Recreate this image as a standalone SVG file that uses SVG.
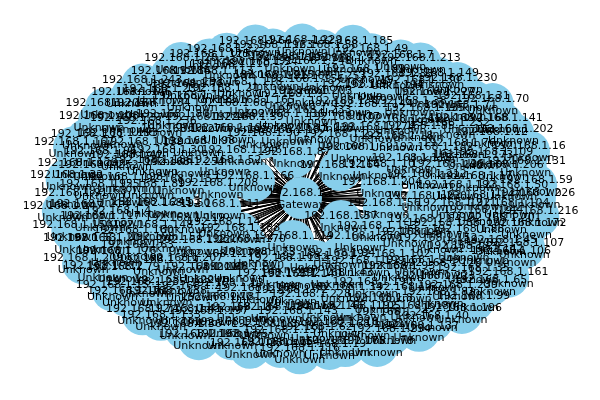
<svg xmlns="http://www.w3.org/2000/svg" width="600" height="400" viewBox="0 0 600 400">
<style>
#edges line{stroke:#000;stroke-width:1;vector-effect:non-scaling-stroke}
#nodes{isolation:isolate}
#nodes circle{fill:#87ceeb;mix-blend-mode:darken}
text{font-family:"DejaVu Sans","Liberation Sans",sans-serif;font-size:11px;text-anchor:middle;fill:#000}
</style>
<rect width="600" height="400" fill="#fff"/>
<g id="edges">
<g transform="translate(301,198)">
<line x2="-7" y2="-41"/><line x2="39" y2="-28"/><line x2="40" y2="23"/><line x2="-8" y2="43"/><line x2="-61" y2="35"/><line x2="-47" y2="-17"/>
</g>
<g transform="translate(301,198) scale(1,.65)">
<line x2="234"/><line x2="239" transform="rotate(6.8)"/><line x2="230" transform="rotate(11.5)"/><line x2="236" transform="rotate(19)"/><line x2="228" transform="rotate(23)"/><line x2="240" transform="rotate(30.3)"/><line x2="232" transform="rotate(35.2)"/><line x2="234" transform="rotate(42.5)"/><line x2="239" transform="rotate(47.7)"/><line x2="230" transform="rotate(55.2)"/><line x2="236" transform="rotate(60)"/><line x2="228" transform="rotate(66.8)"/><line x2="240" transform="rotate(71.5)"/><line x2="232" transform="rotate(79)"/><line x2="234" transform="rotate(83)"/><line x2="239" transform="rotate(90.3)"/><line x2="230" transform="rotate(95.2)"/><line x2="236" transform="rotate(102.5)"/><line x2="228" transform="rotate(107.7)"/><line x2="240" transform="rotate(115.2)"/><line x2="232" transform="rotate(120)"/><line x2="234" transform="rotate(126.8)"/><line x2="239" transform="rotate(131.5)"/><line x2="230" transform="rotate(139)"/><line x2="236" transform="rotate(143)"/><line x2="228" transform="rotate(150.3)"/><line x2="240" transform="rotate(155.2)"/><line x2="232" transform="rotate(162.5)"/><line x2="234" transform="rotate(167.7)"/><line x2="239" transform="rotate(175.2)"/><line x2="230" transform="rotate(180)"/><line x2="236" transform="rotate(186.8)"/><line x2="228" transform="rotate(191.5)"/><line x2="240" transform="rotate(199)"/><line x2="232" transform="rotate(203)"/><line x2="234" transform="rotate(210.3)"/><line x2="239" transform="rotate(215.2)"/><line x2="230" transform="rotate(222.5)"/><line x2="236" transform="rotate(227.7)"/><line x2="228" transform="rotate(235.2)"/><line x2="240" transform="rotate(240)"/><line x2="232" transform="rotate(246.8)"/><line x2="234" transform="rotate(251.5)"/><line x2="239" transform="rotate(259)"/><line x2="230" transform="rotate(263)"/><line x2="236" transform="rotate(270.3)"/><line x2="228" transform="rotate(275.2)"/><line x2="240" transform="rotate(282.5)"/><line x2="232" transform="rotate(287.7)"/><line x2="234" transform="rotate(295.2)"/><line x2="239" transform="rotate(300)"/><line x2="230" transform="rotate(306.8)"/><line x2="236" transform="rotate(311.5)"/><line x2="228" transform="rotate(319)"/><line x2="240" transform="rotate(323)"/><line x2="232" transform="rotate(330.3)"/><line x2="234" transform="rotate(335.2)"/><line x2="239" transform="rotate(342.5)"/><line x2="230" transform="rotate(347.7)"/><line x2="236" transform="rotate(355.2)"/>
<line x2="209" transform="rotate(4.3)"/><line x2="204" transform="rotate(10.8)"/><line x2="212" transform="rotate(19.8)"/><line x2="202" transform="rotate(25.3)"/><line x2="207" transform="rotate(33.8)"/><line x2="211" transform="rotate(42)"/><line x2="205" transform="rotate(48)"/><line x2="209" transform="rotate(56.6)"/><line x2="204" transform="rotate(63.5)"/><line x2="212" transform="rotate(72.5)"/><line x2="202" transform="rotate(79.3)"/><line x2="207" transform="rotate(85.8)"/><line x2="211" transform="rotate(94.8)"/><line x2="205" transform="rotate(100.3)"/><line x2="209" transform="rotate(108.8)"/><line x2="204" transform="rotate(117)"/><line x2="212" transform="rotate(123)"/><line x2="202" transform="rotate(131.6)"/><line x2="207" transform="rotate(138.5)"/><line x2="211" transform="rotate(147.5)"/><line x2="205" transform="rotate(154.3)"/><line x2="209" transform="rotate(160.8)"/><line x2="204" transform="rotate(169.8)"/><line x2="212" transform="rotate(175.3)"/><line x2="202" transform="rotate(183.8)"/><line x2="207" transform="rotate(192)"/><line x2="211" transform="rotate(198)"/><line x2="205" transform="rotate(206.6)"/><line x2="209" transform="rotate(213.5)"/><line x2="204" transform="rotate(222.5)"/><line x2="212" transform="rotate(229.3)"/><line x2="202" transform="rotate(235.8)"/><line x2="207" transform="rotate(244.8)"/><line x2="211" transform="rotate(250.3)"/><line x2="205" transform="rotate(258.8)"/><line x2="209" transform="rotate(267)"/><line x2="204" transform="rotate(273)"/><line x2="212" transform="rotate(281.6)"/><line x2="202" transform="rotate(288.5)"/><line x2="207" transform="rotate(297.5)"/><line x2="211" transform="rotate(304.3)"/><line x2="205" transform="rotate(310.8)"/><line x2="209" transform="rotate(319.8)"/><line x2="204" transform="rotate(325.3)"/><line x2="212" transform="rotate(333.8)"/><line x2="202" transform="rotate(342)"/><line x2="207" transform="rotate(348)"/><line x2="211" transform="rotate(356.6)"/>
<line x2="180" transform="rotate(1)"/><line x2="184" transform="rotate(8)"/><line x2="176" transform="rotate(18.5)"/><line x2="182" transform="rotate(26.5)"/><line x2="177" transform="rotate(37.5)"/><line x2="185" transform="rotate(43.5)"/><line x2="179" transform="rotate(54)"/><line x2="180" transform="rotate(64)"/><line x2="184" transform="rotate(71)"/><line x2="176" transform="rotate(81.5)"/><line x2="182" transform="rotate(91)"/><line x2="177" transform="rotate(98)"/><line x2="185" transform="rotate(108.5)"/><line x2="179" transform="rotate(116.5)"/><line x2="180" transform="rotate(127.5)"/><line x2="184" transform="rotate(133.5)"/><line x2="176" transform="rotate(144)"/><line x2="182" transform="rotate(154)"/><line x2="177" transform="rotate(161)"/><line x2="185" transform="rotate(171.5)"/><line x2="179" transform="rotate(181)"/><line x2="180" transform="rotate(188)"/><line x2="184" transform="rotate(198.5)"/><line x2="176" transform="rotate(206.5)"/><line x2="182" transform="rotate(217.5)"/><line x2="177" transform="rotate(223.5)"/><line x2="185" transform="rotate(234)"/><line x2="179" transform="rotate(244)"/><line x2="180" transform="rotate(251)"/><line x2="184" transform="rotate(261.5)"/><line x2="176" transform="rotate(271)"/><line x2="182" transform="rotate(278)"/><line x2="177" transform="rotate(288.5)"/><line x2="185" transform="rotate(296.5)"/><line x2="179" transform="rotate(307.5)"/><line x2="180" transform="rotate(313.5)"/><line x2="184" transform="rotate(324)"/><line x2="176" transform="rotate(334)"/><line x2="182" transform="rotate(341)"/><line x2="177" transform="rotate(351.5)"/>
<line x2="156" transform="rotate(5.6)"/><line x2="150" transform="rotate(17.9)"/><line x2="153" transform="rotate(27.1)"/><line x2="157" transform="rotate(40.9)"/><line x2="149" transform="rotate(49.1)"/><line x2="155" transform="rotate(62.4)"/><line x2="151" transform="rotate(72.6)"/><line x2="156" transform="rotate(86.4)"/><line x2="150" transform="rotate(93.6)"/><line x2="153" transform="rotate(106.9)"/><line x2="157" transform="rotate(118.1)"/><line x2="149" transform="rotate(130.4)"/><line x2="155" transform="rotate(139.6)"/><line x2="151" transform="rotate(153.4)"/><line x2="156" transform="rotate(161.6)"/><line x2="150" transform="rotate(174.9)"/><line x2="153" transform="rotate(185.1)"/><line x2="157" transform="rotate(198.9)"/><line x2="149" transform="rotate(206.1)"/><line x2="155" transform="rotate(219.4)"/><line x2="151" transform="rotate(230.6)"/><line x2="156" transform="rotate(242.9)"/><line x2="150" transform="rotate(252.1)"/><line x2="153" transform="rotate(265.9)"/><line x2="157" transform="rotate(274.1)"/><line x2="149" transform="rotate(287.4)"/><line x2="155" transform="rotate(297.6)"/><line x2="151" transform="rotate(311.4)"/><line x2="156" transform="rotate(318.6)"/><line x2="150" transform="rotate(331.9)"/><line x2="153" transform="rotate(343.1)"/><line x2="157" transform="rotate(355.4)"/>
<line x2="126" transform="rotate(2)"/><line x2="130" transform="rotate(17.9)"/><line x2="123" transform="rotate(29.3)"/><line x2="129" transform="rotate(46.2)"/><line x2="122" transform="rotate(58.6)"/><line x2="128" transform="rotate(74)"/><line x2="124" transform="rotate(89.9)"/><line x2="126" transform="rotate(101.3)"/><line x2="130" transform="rotate(118.2)"/><line x2="123" transform="rotate(130.6)"/><line x2="129" transform="rotate(146)"/><line x2="122" transform="rotate(161.9)"/><line x2="128" transform="rotate(173.3)"/><line x2="124" transform="rotate(190.2)"/><line x2="126" transform="rotate(202.6)"/><line x2="130" transform="rotate(218)"/><line x2="123" transform="rotate(233.9)"/><line x2="129" transform="rotate(245.3)"/><line x2="122" transform="rotate(262.2)"/><line x2="128" transform="rotate(274.6)"/><line x2="124" transform="rotate(290)"/><line x2="126" transform="rotate(305.9)"/><line x2="130" transform="rotate(317.3)"/><line x2="123" transform="rotate(334.2)"/><line x2="129" transform="rotate(346.6)"/>
</g>
<g transform="translate(301,198) scale(1,.78)">
<line x2="84" transform="rotate(9)"/><line x2="87" transform="rotate(29)"/><line x2="81" transform="rotate(43)"/><line x2="86" transform="rotate(64)"/><line x2="82" transform="rotate(80)"/><line x2="84" transform="rotate(99)"/><line x2="87" transform="rotate(119)"/><line x2="81" transform="rotate(133)"/><line x2="86" transform="rotate(154)"/><line x2="82" transform="rotate(170)"/><line x2="84" transform="rotate(189)"/><line x2="87" transform="rotate(209)"/><line x2="81" transform="rotate(223)"/><line x2="86" transform="rotate(244)"/><line x2="82" transform="rotate(260)"/><line x2="84" transform="rotate(279)"/><line x2="87" transform="rotate(299)"/><line x2="81" transform="rotate(313)"/><line x2="86" transform="rotate(334)"/><line x2="82" transform="rotate(350)"/>
</g>
</g>
<g id="nodes">
<g id="gateway" transform="translate(301,198)"><circle r="21"/><text y="-2">192.168.1.1</text><text y="10">Gateway</text></g>
<g transform="translate(301,198) scale(1,.65)">
<g id="ip226" transform="translate(234)scale(1,1.538)"><circle r="21"/><text y="-2">192.168.1.226</text><text y="10">Unknown</text></g>
<g id="ip216" transform="rotate(6.8)translate(239)rotate(-6.8)scale(1,1.538)"><circle r="21"/><text y="-2">192.168.1.216</text><text y="10">Unknown</text></g>
<g id="ip172" transform="rotate(11.5)translate(230)rotate(-11.5)scale(1,1.538)"><circle r="21"/><text y="-2">192.168.1.172</text><text y="10">Unknown</text></g>
<g id="ip107" transform="rotate(19)translate(236)rotate(-19)scale(1,1.538)"><circle r="21"/><text y="-2">192.168.1.107</text><text y="10">Unknown</text></g>
<g id="ip106" transform="rotate(23)translate(228)rotate(-23)scale(1,1.538)"><circle r="21"/><text y="-2">192.168.1.106</text><text y="10">Unknown</text></g>
<g id="ip161" transform="rotate(30.3)translate(240)rotate(-30.3)scale(1,1.538)"><circle r="21"/><text y="-2">192.168.1.161</text><text y="10">Unknown</text></g>
<g id="ip65" transform="rotate(35.2)translate(232)rotate(-35.2)scale(1,1.538)"><circle r="21"/><text y="-2">192.168.1.65</text><text y="10">Unknown</text></g>
<g id="ip99" transform="rotate(42.5)translate(234)rotate(-42.5)scale(1,1.538)"><circle r="21"/><text y="-2">192.168.1.99</text><text y="10">Unknown</text></g>
<g id="ip196" transform="rotate(47.7)translate(239)rotate(-47.7)scale(1,1.538)"><circle r="21"/><text y="-2">192.168.1.196</text><text y="10">Unknown</text></g>
<g id="ip40" transform="rotate(55.2)translate(230)rotate(-55.2)scale(1,1.538)"><circle r="21"/><text y="-2">192.168.1.40</text><text y="10">Unknown</text></g>
<g id="ip137" transform="rotate(60)translate(236)rotate(-60)scale(1,1.538)"><circle r="21"/><text y="-2">192.168.1.137</text><text y="10">Unknown</text></g>
<g id="ip234" transform="rotate(66.8)translate(228)rotate(-66.8)scale(1,1.538)"><circle r="21"/><text y="-2">192.168.1.234</text><text y="10">Unknown</text></g>
<g id="ip78" transform="rotate(71.5)translate(240)rotate(-71.5)scale(1,1.538)"><circle r="21"/><text y="-2">192.168.1.78</text><text y="10">Unknown</text></g>
<g id="ip175" transform="rotate(79)translate(232)rotate(-79)scale(1,1.538)"><circle r="21"/><text y="-2">192.168.1.175</text><text y="10">Unknown</text></g>
<g id="ip19" transform="rotate(83)translate(234)rotate(-83)scale(1,1.538)"><circle r="21"/><text y="-2">192.168.1.19</text><text y="10">Unknown</text></g>
<g id="ip116" transform="rotate(90.3)translate(239)rotate(-90.3)scale(1,1.538)"><circle r="21"/><text y="-2">192.168.1.116</text><text y="10">Unknown</text></g>
<g id="ip154" transform="rotate(95.2)translate(230)rotate(-95.2)scale(1,1.538)"><circle r="21"/><text y="-2">192.168.1.154</text><text y="10">Unknown</text></g>
<g id="ip251" transform="rotate(102.5)translate(236)rotate(-102.5)scale(1,1.538)"><circle r="21"/><text y="-2">192.168.1.251</text><text y="10">Unknown</text></g>
<g id="ip95" transform="rotate(107.7)translate(228)rotate(-107.7)scale(1,1.538)"><circle r="21"/><text y="-2">192.168.1.95</text><text y="10">Unknown</text></g>
<g id="ip192" transform="rotate(115.2)translate(240)rotate(-115.2)scale(1,1.538)"><circle r="21"/><text y="-2">192.168.1.192</text><text y="10">Unknown</text></g>
<g id="ip36" transform="rotate(120)translate(232)rotate(-120)scale(1,1.538)"><circle r="21"/><text y="-2">192.168.1.36</text><text y="10">Unknown</text></g>
<g id="ip133" transform="rotate(126.8)translate(234)rotate(-126.8)scale(1,1.538)"><circle r="21"/><text y="-2">192.168.1.133</text><text y="10">Unknown</text></g>
<g id="ip74" transform="rotate(131.5)translate(239)rotate(-131.5)scale(1,1.538)"><circle r="21"/><text y="-2">192.168.1.74</text><text y="10">Unknown</text></g>
<g id="ip171" transform="rotate(139)translate(230)rotate(-139)scale(1,1.538)"><circle r="21"/><text y="-2">192.168.1.171</text><text y="10">Unknown</text></g>
<g id="ip15" transform="rotate(143)translate(236)rotate(-143)scale(1,1.538)"><circle r="21"/><text y="-2">192.168.1.15</text><text y="10">Unknown</text></g>
<g id="ip112" transform="rotate(150.3)translate(228)rotate(-150.3)scale(1,1.538)"><circle r="21"/><text y="-2">192.168.1.112</text><text y="10">Unknown</text></g>
<g id="ip209" transform="rotate(155.2)translate(240)rotate(-155.2)scale(1,1.538)"><circle r="21"/><text y="-2">192.168.1.209</text><text y="10">Unknown</text></g>
<g id="ip53" transform="rotate(162.5)translate(232)rotate(-162.5)scale(1,1.538)"><circle r="21"/><text y="-2">192.168.1.53</text><text y="10">Unknown</text></g>
<g id="ip150" transform="rotate(167.7)translate(234)rotate(-167.7)scale(1,1.538)"><circle r="21"/><text y="-2">192.168.1.150</text><text y="10">Unknown</text></g>
<g id="ip247" transform="rotate(175.2)translate(239)rotate(-175.2)scale(1,1.538)"><circle r="21"/><text y="-2">192.168.1.247</text><text y="10">Unknown</text></g>
<g id="ip91" transform="rotate(180)translate(230)rotate(-180)scale(1,1.538)"><circle r="21"/><text y="-2">192.168.1.91</text><text y="10">Unknown</text></g>
<g id="ip32" transform="rotate(186.8)translate(236)rotate(-186.8)scale(1,1.538)"><circle r="21"/><text y="-2">192.168.1.32</text><text y="10">Unknown</text></g>
<g id="ip129" transform="rotate(191.5)translate(228)rotate(-191.5)scale(1,1.538)"><circle r="21"/><text y="-2">192.168.1.129</text><text y="10">Unknown</text></g>
<g id="ip167" transform="rotate(199)translate(240)rotate(-199)scale(1,1.538)"><circle r="21"/><text y="-2">192.168.1.167</text><text y="10">Unknown</text></g>
<g id="ip11" transform="rotate(203)translate(232)rotate(-203)scale(1,1.538)"><circle r="21"/><text y="-2">192.168.1.11</text><text y="10">Unknown</text></g>
<g id="ip108" transform="rotate(210.3)translate(234)rotate(-210.3)scale(1,1.538)"><circle r="21"/><text y="-2">192.168.1.108</text><text y="10">Unknown</text></g>
<g id="ip205" transform="rotate(215.2)translate(239)rotate(-215.2)scale(1,1.538)"><circle r="21"/><text y="-2">192.168.1.205</text><text y="10">Unknown</text></g>
<g id="ip146" transform="rotate(222.5)translate(230)rotate(-222.5)scale(1,1.538)"><circle r="21"/><text y="-2">192.168.1.146</text><text y="10">Unknown</text></g>
<g id="ip243" transform="rotate(227.7)translate(236)rotate(-227.7)scale(1,1.538)"><circle r="21"/><text y="-2">192.168.1.243</text><text y="10">Unknown</text></g>
<g id="ip184" transform="rotate(235.2)translate(228)rotate(-235.2)scale(1,1.538)"><circle r="21"/><text y="-2">192.168.1.184</text><text y="10">Unknown</text></g>
<g id="ip28" transform="rotate(240)translate(240)rotate(-240)scale(1,1.538)"><circle r="21"/><text y="-2">192.168.1.28</text><text y="10">Unknown</text></g>
<g id="ip125" transform="rotate(246.8)translate(232)rotate(-246.8)scale(1,1.538)"><circle r="21"/><text y="-2">192.168.1.125</text><text y="10">Unknown</text></g>
<g id="ip222" transform="rotate(251.5)translate(234)rotate(-251.5)scale(1,1.538)"><circle r="21"/><text y="-2">192.168.1.222</text><text y="10">Unknown</text></g>
<g id="ip66" transform="rotate(259)translate(239)rotate(-259)scale(1,1.538)"><circle r="21"/><text y="-2">192.168.1.66</text><text y="10">Unknown</text></g>
<g id="ip163" transform="rotate(263)translate(230)rotate(-263)scale(1,1.538)"><circle r="21"/><text y="-2">192.168.1.163</text><text y="10">Unknown</text></g>
<g id="ip229" transform="rotate(270.3)translate(236)rotate(-270.3)scale(1,1.538)"><circle r="21"/><text y="-2">192.168.1.229</text><text y="10">Unknown</text></g>
<g id="ip58" transform="rotate(275.2)translate(228)rotate(-275.2)scale(1,1.538)"><circle r="21"/><text y="-2">192.168.1.58</text><text y="10">Unknown</text></g>
<g id="ip185" transform="rotate(282.5)translate(240)rotate(-282.5)scale(1,1.538)"><circle r="21"/><text y="-2">192.168.1.185</text><text y="10">Unknown</text></g>
<g id="ip49" transform="rotate(287.7)translate(232)rotate(-287.7)scale(1,1.538)"><circle r="21"/><text y="-2">192.168.1.49</text><text y="10">Unknown</text></g>
<g id="ip7" transform="rotate(295.2)translate(234)rotate(-295.2)scale(1,1.538)"><circle r="21"/><text y="-2">192.168.1.7</text><text y="10">Unknown</text></g>
<g id="ip213" transform="rotate(300)translate(239)rotate(-300)scale(1,1.538)"><circle r="21"/><text y="-2">192.168.1.213</text><text y="10">Unknown</text></g>
<g id="ip149" transform="rotate(306.8)translate(230)rotate(-306.8)scale(1,1.538)"><circle r="21"/><text y="-2">192.168.1.149</text><text y="10">Unknown</text></g>
<g id="ip230" transform="rotate(311.5)translate(236)rotate(-311.5)scale(1,1.538)"><circle r="21"/><text y="-2">192.168.1.230</text><text y="10">Unknown</text></g>
<g id="ip31" transform="rotate(319)translate(228)rotate(-319)scale(1,1.538)"><circle r="21"/><text y="-2">192.168.1.31</text><text y="10">Unknown</text></g>
<g id="ip70" transform="rotate(323)translate(240)rotate(-323)scale(1,1.538)"><circle r="21"/><text y="-2">192.168.1.70</text><text y="10">Unknown</text></g>
<g id="ip141" transform="rotate(330.3)translate(232)rotate(-330.3)scale(1,1.538)"><circle r="21"/><text y="-2">192.168.1.141</text><text y="10">Unknown</text></g>
<g id="ip202" transform="rotate(335.2)translate(234)rotate(-335.2)scale(1,1.538)"><circle r="21"/><text y="-2">192.168.1.202</text><text y="10">Unknown</text></g>
<g id="ip16" transform="rotate(342.5)translate(239)rotate(-342.5)scale(1,1.538)"><circle r="21"/><text y="-2">192.168.1.16</text><text y="10">Unknown</text></g>
<g id="ip131" transform="rotate(347.7)translate(230)rotate(-347.7)scale(1,1.538)"><circle r="21"/><text y="-2">192.168.1.131</text><text y="10">Unknown</text></g>
<g id="ip59" transform="rotate(355.2)translate(236)rotate(-355.2)scale(1,1.538)"><circle r="21"/><text y="-2">192.168.1.59</text><text y="10">Unknown</text></g>
<g id="ip104" transform="rotate(4.3)translate(209)rotate(-4.3)scale(1,1.538)"><circle r="21"/><text y="-2">192.168.1.104</text><text y="10">Unknown</text></g>
<g id="ip201" transform="rotate(10.8)translate(204)rotate(-10.8)scale(1,1.538)"><circle r="21"/><text y="-2">192.168.1.201</text><text y="10">Unknown</text></g>
<g id="ip45" transform="rotate(19.8)translate(212)rotate(-19.8)scale(1,1.538)"><circle r="21"/><text y="-2">192.168.1.45</text><text y="10">Unknown</text></g>
<g id="ip142" transform="rotate(25.3)translate(202)rotate(-25.3)scale(1,1.538)"><circle r="21"/><text y="-2">192.168.1.142</text><text y="10">Unknown</text></g>
<g id="ip35" transform="rotate(33.8)translate(207)rotate(-33.8)scale(1,1.538)"><circle r="21"/><text y="-2">192.168.1.35</text><text y="10">Unknown</text></g>
<g id="ip239" transform="rotate(42)translate(211)rotate(-42)scale(1,1.538)"><circle r="21"/><text y="-2">192.168.1.239</text><text y="10">Unknown</text></g>
<g id="ip83" transform="rotate(48)translate(205)rotate(-48)scale(1,1.538)"><circle r="21"/><text y="-2">192.168.1.83</text><text y="10">Unknown</text></g>
<g id="ip180" transform="rotate(56.6)translate(209)rotate(-56.6)scale(1,1.538)"><circle r="21"/><text y="-2">192.168.1.180</text><text y="10">Unknown</text></g>
<g id="ip24" transform="rotate(63.5)translate(204)rotate(-63.5)scale(1,1.538)"><circle r="21"/><text y="-2">192.168.1.24</text><text y="10">Unknown</text></g>
<g id="ip121" transform="rotate(72.5)translate(212)rotate(-72.5)scale(1,1.538)"><circle r="21"/><text y="-2">192.168.1.121</text><text y="10">Unknown</text></g>
<g id="ip218" transform="rotate(79.3)translate(202)rotate(-79.3)scale(1,1.538)"><circle r="21"/><text y="-2">192.168.1.218</text><text y="10">Unknown</text></g>
<g id="ip62" transform="rotate(85.8)translate(207)rotate(-85.8)scale(1,1.538)"><circle r="21"/><text y="-2">192.168.1.62</text><text y="10">Unknown</text></g>
<g id="ip159" transform="rotate(94.8)translate(211)rotate(-94.8)scale(1,1.538)"><circle r="21"/><text y="-2">192.168.1.159</text><text y="10">Unknown</text></g>
<g id="ip3" transform="rotate(100.3)translate(205)rotate(-100.3)scale(1,1.538)"><circle r="21"/><text y="-2">192.168.1.3</text><text y="10">Unknown</text></g>
<g id="ip100" transform="rotate(108.8)translate(209)rotate(-108.8)scale(1,1.538)"><circle r="21"/><text y="-2">192.168.1.100</text><text y="10">Unknown</text></g>
<g id="ip197" transform="rotate(117)translate(204)rotate(-117)scale(1,1.538)"><circle r="21"/><text y="-2">192.168.1.197</text><text y="10">Unknown</text></g>
<g id="ip41" transform="rotate(123)translate(212)rotate(-123)scale(1,1.538)"><circle r="21"/><text y="-2">192.168.1.41</text><text y="10">Unknown</text></g>
<g id="ip138" transform="rotate(131.6)translate(202)rotate(-131.6)scale(1,1.538)"><circle r="21"/><text y="-2">192.168.1.138</text><text y="10">Unknown</text></g>
<g id="ip235" transform="rotate(138.5)translate(207)rotate(-138.5)scale(1,1.538)"><circle r="21"/><text y="-2">192.168.1.235</text><text y="10">Unknown</text></g>
<g id="ip79" transform="rotate(147.5)translate(211)rotate(-147.5)scale(1,1.538)"><circle r="21"/><text y="-2">192.168.1.79</text><text y="10">Unknown</text></g>
<g id="ip176" transform="rotate(154.3)translate(205)rotate(-154.3)scale(1,1.538)"><circle r="21"/><text y="-2">192.168.1.176</text><text y="10">Unknown</text></g>
<g id="ip20" transform="rotate(160.8)translate(209)rotate(-160.8)scale(1,1.538)"><circle r="21"/><text y="-2">192.168.1.20</text><text y="10">Unknown</text></g>
<g id="ip117" transform="rotate(169.8)translate(204)rotate(-169.8)scale(1,1.538)"><circle r="21"/><text y="-2">192.168.1.117</text><text y="10">Unknown</text></g>
<g id="ip214" transform="rotate(175.3)translate(212)rotate(-175.3)scale(1,1.538)"><circle r="21"/><text y="-2">192.168.1.214</text><text y="10">Unknown</text></g>
<g id="ip155" transform="rotate(183.8)translate(202)rotate(-183.8)scale(1,1.538)"><circle r="21"/><text y="-2">192.168.1.155</text><text y="10">Unknown</text></g>
<g id="ip252" transform="rotate(192)translate(207)rotate(-192)scale(1,1.538)"><circle r="21"/><text y="-2">192.168.1.252</text><text y="10">Unknown</text></g>
<g id="ip96" transform="rotate(198)translate(211)rotate(-198)scale(1,1.538)"><circle r="21"/><text y="-2">192.168.1.96</text><text y="10">Unknown</text></g>
<g id="ip193" transform="rotate(206.6)translate(205)rotate(-206.6)scale(1,1.538)"><circle r="21"/><text y="-2">192.168.1.193</text><text y="10">Unknown</text></g>
<g id="ip37" transform="rotate(213.5)translate(209)rotate(-213.5)scale(1,1.538)"><circle r="21"/><text y="-2">192.168.1.37</text><text y="10">Unknown</text></g>
<g id="ip134" transform="rotate(222.5)translate(204)rotate(-222.5)scale(1,1.538)"><circle r="21"/><text y="-2">192.168.1.134</text><text y="10">Unknown</text></g>
<g id="ip231" transform="rotate(229.3)translate(212)rotate(-229.3)scale(1,1.538)"><circle r="21"/><text y="-2">192.168.1.231</text><text y="10">Unknown</text></g>
<g id="ip75" transform="rotate(235.8)translate(202)rotate(-235.8)scale(1,1.538)"><circle r="21"/><text y="-2">192.168.1.75</text><text y="10">Unknown</text></g>
<g id="ip113" transform="rotate(244.8)translate(207)rotate(-244.8)scale(1,1.538)"><circle r="21"/><text y="-2">192.168.1.113</text><text y="10">Unknown</text></g>
<g id="ip210" transform="rotate(250.3)translate(211)rotate(-250.3)scale(1,1.538)"><circle r="21"/><text y="-2">192.168.1.210</text><text y="10">Unknown</text></g>
<g id="ip54" transform="rotate(258.8)translate(205)rotate(-258.8)scale(1,1.538)"><circle r="21"/><text y="-2">192.168.1.54</text><text y="10">Unknown</text></g>
<g id="ip151" transform="rotate(267)translate(209)rotate(-267)scale(1,1.538)"><circle r="21"/><text y="-2">192.168.1.151</text><text y="10">Unknown</text></g>
<g id="ip248" transform="rotate(273)translate(204)rotate(-273)scale(1,1.538)"><circle r="21"/><text y="-2">192.168.1.248</text><text y="10">Unknown</text></g>
<g id="ip92" transform="rotate(281.6)translate(212)rotate(-281.6)scale(1,1.538)"><circle r="21"/><text y="-2">192.168.1.92</text><text y="10">Unknown</text></g>
<g id="ip189" transform="rotate(288.5)translate(202)rotate(-288.5)scale(1,1.538)"><circle r="21"/><text y="-2">192.168.1.189</text><text y="10">Unknown</text></g>
<g id="ip33" transform="rotate(297.5)translate(207)rotate(-297.5)scale(1,1.538)"><circle r="21"/><text y="-2">192.168.1.33</text><text y="10">Unknown</text></g>
<g id="ip130" transform="rotate(304.3)translate(211)rotate(-304.3)scale(1,1.538)"><circle r="21"/><text y="-2">192.168.1.130</text><text y="10">Unknown</text></g>
<g id="ip227" transform="rotate(310.8)translate(205)rotate(-310.8)scale(1,1.538)"><circle r="21"/><text y="-2">192.168.1.227</text><text y="10">Unknown</text></g>
<g id="ip71" transform="rotate(319.8)translate(209)rotate(-319.8)scale(1,1.538)"><circle r="21"/><text y="-2">192.168.1.71</text><text y="10">Unknown</text></g>
<g id="ip168" transform="rotate(325.3)translate(204)rotate(-325.3)scale(1,1.538)"><circle r="21"/><text y="-2">192.168.1.168</text><text y="10">Unknown</text></g>
<g id="ip12" transform="rotate(333.8)translate(212)rotate(-333.8)scale(1,1.538)"><circle r="21"/><text y="-2">192.168.1.12</text><text y="10">Unknown</text></g>
<g id="ip109" transform="rotate(342)translate(202)rotate(-342)scale(1,1.538)"><circle r="21"/><text y="-2">192.168.1.109</text><text y="10">Unknown</text></g>
<g id="ip206" transform="rotate(348)translate(207)rotate(-348)scale(1,1.538)"><circle r="21"/><text y="-2">192.168.1.206</text><text y="10">Unknown</text></g>
<g id="ip50" transform="rotate(356.6)translate(211)rotate(-356.6)scale(1,1.538)"><circle r="21"/><text y="-2">192.168.1.50</text><text y="10">Unknown</text></g>
<g id="ip147" transform="rotate(1)translate(180)rotate(-1)scale(1,1.538)"><circle r="21"/><text y="-2">192.168.1.147</text><text y="10">Unknown</text></g>
<g id="ip244" transform="rotate(8)translate(184)rotate(-8)scale(1,1.538)"><circle r="21"/><text y="-2">192.168.1.244</text><text y="10">Unknown</text></g>
<g id="ip88" transform="rotate(18.5)translate(176)rotate(-18.5)scale(1,1.538)"><circle r="21"/><text y="-2">192.168.1.88</text><text y="10">Unknown</text></g>
<g id="ip29" transform="rotate(26.5)translate(182)rotate(-26.5)scale(1,1.538)"><circle r="21"/><text y="-2">192.168.1.29</text><text y="10">Unknown</text></g>
<g id="ip126" transform="rotate(37.5)translate(177)rotate(-37.5)scale(1,1.538)"><circle r="21"/><text y="-2">192.168.1.126</text><text y="10">Unknown</text></g>
<g id="ip223" transform="rotate(43.5)translate(185)rotate(-43.5)scale(1,1.538)"><circle r="21"/><text y="-2">192.168.1.223</text><text y="10">Unknown</text></g>
<g id="ip67" transform="rotate(54)translate(179)rotate(-54)scale(1,1.538)"><circle r="21"/><text y="-2">192.168.1.67</text><text y="10">Unknown</text></g>
<g id="ip8" transform="rotate(64)translate(180)rotate(-64)scale(1,1.538)"><circle r="21"/><text y="-2">192.168.1.8</text><text y="10">Unknown</text></g>
<g id="ip105" transform="rotate(71)translate(184)rotate(-71)scale(1,1.538)"><circle r="21"/><text y="-2">192.168.1.105</text><text y="10">Unknown</text></g>
<g id="ip46" transform="rotate(81.5)translate(176)rotate(-81.5)scale(1,1.538)"><circle r="21"/><text y="-2">192.168.1.46</text><text y="10">Unknown</text></g>
<g id="ip143" transform="rotate(91)translate(182)rotate(-91)scale(1,1.538)"><circle r="21"/><text y="-2">192.168.1.143</text><text y="10">Unknown</text></g>
<g id="ip240" transform="rotate(98)translate(177)rotate(-98)scale(1,1.538)"><circle r="21"/><text y="-2">192.168.1.240</text><text y="10">Unknown</text></g>
<g id="ip84" transform="rotate(108.5)translate(185)rotate(-108.5)scale(1,1.538)"><circle r="21"/><text y="-2">192.168.1.84</text><text y="10">Unknown</text></g>
<g id="ip181" transform="rotate(116.5)translate(179)rotate(-116.5)scale(1,1.538)"><circle r="21"/><text y="-2">192.168.1.181</text><text y="10">Unknown</text></g>
<g id="ip25" transform="rotate(127.5)translate(180)rotate(-127.5)scale(1,1.538)"><circle r="21"/><text y="-2">192.168.1.25</text><text y="10">Unknown</text></g>
<g id="ip122" transform="rotate(133.5)translate(184)rotate(-133.5)scale(1,1.538)"><circle r="21"/><text y="-2">192.168.1.122</text><text y="10">Unknown</text></g>
<g id="ip219" transform="rotate(144)translate(176)rotate(-144)scale(1,1.538)"><circle r="21"/><text y="-2">192.168.1.219</text><text y="10">Unknown</text></g>
<g id="ip63" transform="rotate(154)translate(182)rotate(-154)scale(1,1.538)"><circle r="21"/><text y="-2">192.168.1.63</text><text y="10">Unknown</text></g>
<g id="ip160" transform="rotate(161)translate(177)rotate(-161)scale(1,1.538)"><circle r="21"/><text y="-2">192.168.1.160</text><text y="10">Unknown</text></g>
<g id="ip4" transform="rotate(171.5)translate(185)rotate(-171.5)scale(1,1.538)"><circle r="21"/><text y="-2">192.168.1.4</text><text y="10">Unknown</text></g>
<g id="ip101" transform="rotate(181)translate(179)rotate(-181)scale(1,1.538)"><circle r="21"/><text y="-2">192.168.1.101</text><text y="10">Unknown</text></g>
<g id="ip198" transform="rotate(188)translate(180)rotate(-188)scale(1,1.538)"><circle r="21"/><text y="-2">192.168.1.198</text><text y="10">Unknown</text></g>
<g id="ip42" transform="rotate(198.5)translate(184)rotate(-198.5)scale(1,1.538)"><circle r="21"/><text y="-2">192.168.1.42</text><text y="10">Unknown</text></g>
<g id="ip139" transform="rotate(206.5)translate(176)rotate(-206.5)scale(1,1.538)"><circle r="21"/><text y="-2">192.168.1.139</text><text y="10">Unknown</text></g>
<g id="ip236" transform="rotate(217.5)translate(182)rotate(-217.5)scale(1,1.538)"><circle r="21"/><text y="-2">192.168.1.236</text><text y="10">Unknown</text></g>
<g id="ip80" transform="rotate(223.5)translate(177)rotate(-223.5)scale(1,1.538)"><circle r="21"/><text y="-2">192.168.1.80</text><text y="10">Unknown</text></g>
<g id="ip177" transform="rotate(234)translate(185)rotate(-234)scale(1,1.538)"><circle r="21"/><text y="-2">192.168.1.177</text><text y="10">Unknown</text></g>
<g id="ip21" transform="rotate(244)translate(179)rotate(-244)scale(1,1.538)"><circle r="21"/><text y="-2">192.168.1.21</text><text y="10">Unknown</text></g>
<g id="ip118" transform="rotate(251)translate(180)rotate(-251)scale(1,1.538)"><circle r="21"/><text y="-2">192.168.1.118</text><text y="10">Unknown</text></g>
<g id="ip215" transform="rotate(261.5)translate(184)rotate(-261.5)scale(1,1.538)"><circle r="21"/><text y="-2">192.168.1.215</text><text y="10">Unknown</text></g>
<g id="ip156" transform="rotate(271)translate(176)rotate(-271)scale(1,1.538)"><circle r="21"/><text y="-2">192.168.1.156</text><text y="10">Unknown</text></g>
<g id="ip253" transform="rotate(278)translate(182)rotate(-278)scale(1,1.538)"><circle r="21"/><text y="-2">192.168.1.253</text><text y="10">Unknown</text></g>
<g id="ip97" transform="rotate(288.5)translate(177)rotate(-288.5)scale(1,1.538)"><circle r="21"/><text y="-2">192.168.1.97</text><text y="10">Unknown</text></g>
<g id="ip194" transform="rotate(296.5)translate(185)rotate(-296.5)scale(1,1.538)"><circle r="21"/><text y="-2">192.168.1.194</text><text y="10">Unknown</text></g>
<g id="ip38" transform="rotate(307.5)translate(179)rotate(-307.5)scale(1,1.538)"><circle r="21"/><text y="-2">192.168.1.38</text><text y="10">Unknown</text></g>
<g id="ip135" transform="rotate(313.5)translate(180)rotate(-313.5)scale(1,1.538)"><circle r="21"/><text y="-2">192.168.1.135</text><text y="10">Unknown</text></g>
<g id="ip232" transform="rotate(324)translate(184)rotate(-324)scale(1,1.538)"><circle r="21"/><text y="-2">192.168.1.232</text><text y="10">Unknown</text></g>
<g id="ip76" transform="rotate(334)translate(176)rotate(-334)scale(1,1.538)"><circle r="21"/><text y="-2">192.168.1.76</text><text y="10">Unknown</text></g>
<g id="ip173" transform="rotate(341)translate(182)rotate(-341)scale(1,1.538)"><circle r="21"/><text y="-2">192.168.1.173</text><text y="10">Unknown</text></g>
<g id="ip17" transform="rotate(351.5)translate(177)rotate(-351.5)scale(1,1.538)"><circle r="21"/><text y="-2">192.168.1.17</text><text y="10">Unknown</text></g>
<g id="ip211" transform="rotate(5.6)translate(156)rotate(-5.6)scale(1,1.538)"><circle r="21"/><text y="-2">192.168.1.211</text><text y="10">Unknown</text></g>
<g id="ip55" transform="rotate(17.9)translate(150)rotate(-17.9)scale(1,1.538)"><circle r="21"/><text y="-2">192.168.1.55</text><text y="10">Unknown</text></g>
<g id="ip152" transform="rotate(27.1)translate(153)rotate(-27.1)scale(1,1.538)"><circle r="21"/><text y="-2">192.168.1.152</text><text y="10">Unknown</text></g>
<g id="ip249" transform="rotate(40.9)translate(157)rotate(-40.9)scale(1,1.538)"><circle r="21"/><text y="-2">192.168.1.249</text><text y="10">Unknown</text></g>
<g id="ip93" transform="rotate(49.1)translate(149)rotate(-49.1)scale(1,1.538)"><circle r="21"/><text y="-2">192.168.1.93</text><text y="10">Unknown</text></g>
<g id="ip190" transform="rotate(62.4)translate(155)rotate(-62.4)scale(1,1.538)"><circle r="21"/><text y="-2">192.168.1.190</text><text y="10">Unknown</text></g>
<g id="ip34" transform="rotate(72.6)translate(151)rotate(-72.6)scale(1,1.538)"><circle r="21"/><text y="-2">192.168.1.34</text><text y="10">Unknown</text></g>
<g id="ip228" transform="rotate(86.4)translate(156)rotate(-86.4)scale(1,1.538)"><circle r="21"/><text y="-2">192.168.1.228</text><text y="10">Unknown</text></g>
<g id="ip72" transform="rotate(93.6)translate(150)rotate(-93.6)scale(1,1.538)"><circle r="21"/><text y="-2">192.168.1.72</text><text y="10">Unknown</text></g>
<g id="ip169" transform="rotate(106.9)translate(153)rotate(-106.9)scale(1,1.538)"><circle r="21"/><text y="-2">192.168.1.169</text><text y="10">Unknown</text></g>
<g id="ip13" transform="rotate(118.1)translate(157)rotate(-118.1)scale(1,1.538)"><circle r="21"/><text y="-2">192.168.1.13</text><text y="10">Unknown</text></g>
<g id="ip110" transform="rotate(130.4)translate(149)rotate(-130.4)scale(1,1.538)"><circle r="21"/><text y="-2">192.168.1.110</text><text y="10">Unknown</text></g>
<g id="ip207" transform="rotate(139.6)translate(155)rotate(-139.6)scale(1,1.538)"><circle r="21"/><text y="-2">192.168.1.207</text><text y="10">Unknown</text></g>
<g id="ip51" transform="rotate(153.4)translate(151)rotate(-153.4)scale(1,1.538)"><circle r="21"/><text y="-2">192.168.1.51</text><text y="10">Unknown</text></g>
<g id="ip148" transform="rotate(161.6)translate(156)rotate(-161.6)scale(1,1.538)"><circle r="21"/><text y="-2">192.168.1.148</text><text y="10">Unknown</text></g>
<g id="ip245" transform="rotate(174.9)translate(150)rotate(-174.9)scale(1,1.538)"><circle r="21"/><text y="-2">192.168.1.245</text><text y="10">Unknown</text></g>
<g id="ip89" transform="rotate(185.1)translate(153)rotate(-185.1)scale(1,1.538)"><circle r="21"/><text y="-2">192.168.1.89</text><text y="10">Unknown</text></g>
<g id="ip186" transform="rotate(198.9)translate(157)rotate(-198.9)scale(1,1.538)"><circle r="21"/><text y="-2">192.168.1.186</text><text y="10">Unknown</text></g>
<g id="ip30" transform="rotate(206.1)translate(149)rotate(-206.1)scale(1,1.538)"><circle r="21"/><text y="-2">192.168.1.30</text><text y="10">Unknown</text></g>
<g id="ip127" transform="rotate(219.4)translate(155)rotate(-219.4)scale(1,1.538)"><circle r="21"/><text y="-2">192.168.1.127</text><text y="10">Unknown</text></g>
<g id="ip224" transform="rotate(230.6)translate(151)rotate(-230.6)scale(1,1.538)"><circle r="21"/><text y="-2">192.168.1.224</text><text y="10">Unknown</text></g>
<g id="ip68" transform="rotate(242.9)translate(156)rotate(-242.9)scale(1,1.538)"><circle r="21"/><text y="-2">192.168.1.68</text><text y="10">Unknown</text></g>
<g id="ip165" transform="rotate(252.1)translate(150)rotate(-252.1)scale(1,1.538)"><circle r="21"/><text y="-2">192.168.1.165</text><text y="10">Unknown</text></g>
<g id="ip9" transform="rotate(265.9)translate(153)rotate(-265.9)scale(1,1.538)"><circle r="21"/><text y="-2">192.168.1.9</text><text y="10">Unknown</text></g>
<g id="ip203" transform="rotate(274.1)translate(157)rotate(-274.1)scale(1,1.538)"><circle r="21"/><text y="-2">192.168.1.203</text><text y="10">Unknown</text></g>
<g id="ip47" transform="rotate(287.4)translate(149)rotate(-287.4)scale(1,1.538)"><circle r="21"/><text y="-2">192.168.1.47</text><text y="10">Unknown</text></g>
<g id="ip144" transform="rotate(297.6)translate(155)rotate(-297.6)scale(1,1.538)"><circle r="21"/><text y="-2">192.168.1.144</text><text y="10">Unknown</text></g>
<g id="ip241" transform="rotate(311.4)translate(151)rotate(-311.4)scale(1,1.538)"><circle r="21"/><text y="-2">192.168.1.241</text><text y="10">Unknown</text></g>
<g id="ip85" transform="rotate(318.6)translate(156)rotate(-318.6)scale(1,1.538)"><circle r="21"/><text y="-2">192.168.1.85</text><text y="10">Unknown</text></g>
<g id="ip182" transform="rotate(331.9)translate(150)rotate(-331.9)scale(1,1.538)"><circle r="21"/><text y="-2">192.168.1.182</text><text y="10">Unknown</text></g>
<g id="ip26" transform="rotate(343.1)translate(153)rotate(-343.1)scale(1,1.538)"><circle r="21"/><text y="-2">192.168.1.26</text><text y="10">Unknown</text></g>
<g id="ip123" transform="rotate(355.4)translate(157)rotate(-355.4)scale(1,1.538)"><circle r="21"/><text y="-2">192.168.1.123</text><text y="10">Unknown</text></g>
<g id="ip220" transform="rotate(2)translate(126)rotate(-2)scale(1,1.538)"><circle r="21"/><text y="-2">192.168.1.220</text><text y="10">Unknown</text></g>
<g id="ip64" transform="rotate(17.9)translate(130)rotate(-17.9)scale(1,1.538)"><circle r="21"/><text y="-2">192.168.1.64</text><text y="10">Unknown</text></g>
<g id="ip5" transform="rotate(29.3)translate(123)rotate(-29.3)scale(1,1.538)"><circle r="21"/><text y="-2">192.168.1.5</text><text y="10">Unknown</text></g>
<g id="ip102" transform="rotate(46.2)translate(129)rotate(-46.2)scale(1,1.538)"><circle r="21"/><text y="-2">192.168.1.102</text><text y="10">Unknown</text></g>
<g id="ip199" transform="rotate(58.6)translate(122)rotate(-58.6)scale(1,1.538)"><circle r="21"/><text y="-2">192.168.1.199</text><text y="10">Unknown</text></g>
<g id="ip43" transform="rotate(74)translate(128)rotate(-74)scale(1,1.538)"><circle r="21"/><text y="-2">192.168.1.43</text><text y="10">Unknown</text></g>
<g id="ip140" transform="rotate(89.9)translate(124)rotate(-89.9)scale(1,1.538)"><circle r="21"/><text y="-2">192.168.1.140</text><text y="10">Unknown</text></g>
<g id="ip237" transform="rotate(101.3)translate(126)rotate(-101.3)scale(1,1.538)"><circle r="21"/><text y="-2">192.168.1.237</text><text y="10">Unknown</text></g>
<g id="ip81" transform="rotate(118.2)translate(130)rotate(-118.2)scale(1,1.538)"><circle r="21"/><text y="-2">192.168.1.81</text><text y="10">Unknown</text></g>
<g id="ip178" transform="rotate(130.6)translate(123)rotate(-130.6)scale(1,1.538)"><circle r="21"/><text y="-2">192.168.1.178</text><text y="10">Unknown</text></g>
<g id="ip22" transform="rotate(146)translate(129)rotate(-146)scale(1,1.538)"><circle r="21"/><text y="-2">192.168.1.22</text><text y="10">Unknown</text></g>
<g id="ip119" transform="rotate(161.9)translate(122)rotate(-161.9)scale(1,1.538)"><circle r="21"/><text y="-2">192.168.1.119</text><text y="10">Unknown</text></g>
<g id="ip60" transform="rotate(173.3)translate(128)rotate(-173.3)scale(1,1.538)"><circle r="21"/><text y="-2">192.168.1.60</text><text y="10">Unknown</text></g>
<g id="ip157" transform="rotate(190.2)translate(124)rotate(-190.2)scale(1,1.538)"><circle r="21"/><text y="-2">192.168.1.157</text><text y="10">Unknown</text></g>
<g id="ip254" transform="rotate(202.6)translate(126)rotate(-202.6)scale(1,1.538)"><circle r="21"/><text y="-2">192.168.1.254</text><text y="10">Unknown</text></g>
<g id="ip98" transform="rotate(218)translate(130)rotate(-218)scale(1,1.538)"><circle r="21"/><text y="-2">192.168.1.98</text><text y="10">Unknown</text></g>
<g id="ip195" transform="rotate(233.9)translate(123)rotate(-233.9)scale(1,1.538)"><circle r="21"/><text y="-2">192.168.1.195</text><text y="10">Unknown</text></g>
<g id="ip39" transform="rotate(245.3)translate(129)rotate(-245.3)scale(1,1.538)"><circle r="21"/><text y="-2">192.168.1.39</text><text y="10">Unknown</text></g>
<g id="ip136" transform="rotate(262.2)translate(122)rotate(-262.2)scale(1,1.538)"><circle r="21"/><text y="-2">192.168.1.136</text><text y="10">Unknown</text></g>
<g id="ip233" transform="rotate(274.6)translate(128)rotate(-274.6)scale(1,1.538)"><circle r="21"/><text y="-2">192.168.1.233</text><text y="10">Unknown</text></g>
<g id="ip77" transform="rotate(290)translate(124)rotate(-290)scale(1,1.538)"><circle r="21"/><text y="-2">192.168.1.77</text><text y="10">Unknown</text></g>
<g id="ip174" transform="rotate(305.9)translate(126)rotate(-305.9)scale(1,1.538)"><circle r="21"/><text y="-2">192.168.1.174</text><text y="10">Unknown</text></g>
<g id="ip18" transform="rotate(317.3)translate(130)rotate(-317.3)scale(1,1.538)"><circle r="21"/><text y="-2">192.168.1.18</text><text y="10">Unknown</text></g>
<g id="ip115" transform="rotate(334.2)translate(123)rotate(-334.2)scale(1,1.538)"><circle r="21"/><text y="-2">192.168.1.115</text><text y="10">Unknown</text></g>
<g id="ip212" transform="rotate(346.6)translate(129)rotate(-346.6)scale(1,1.538)"><circle r="21"/><text y="-2">192.168.1.212</text><text y="10">Unknown</text></g>
</g>
<g transform="translate(301,198) scale(1,.78)">
<g id="ip56" transform="rotate(9)translate(84)rotate(-9)scale(1,1.282)"><circle r="21"/><text y="-2">192.168.1.56</text><text y="10">Unknown</text></g>
<g id="ip153" transform="rotate(29)translate(87)rotate(-29)scale(1,1.282)"><circle r="21"/><text y="-2">192.168.1.153</text><text y="10">Unknown</text></g>
<g id="ip250" transform="rotate(43)translate(81)rotate(-43)scale(1,1.282)"><circle r="21"/><text y="-2">192.168.1.250</text><text y="10">Unknown</text></g>
<g id="ip94" transform="rotate(64)translate(86)rotate(-64)scale(1,1.282)"><circle r="21"/><text y="-2">192.168.1.94</text><text y="10">Unknown</text></g>
<g id="ip191" transform="rotate(80)translate(82)rotate(-80)scale(1,1.282)"><circle r="21"/><text y="-2">192.168.1.191</text><text y="10">Unknown</text></g>
<g id="ip132" transform="rotate(99)translate(84)rotate(-99)scale(1,1.282)"><circle r="21"/><text y="-2">192.168.1.132</text><text y="10">Unknown</text></g>
<g id="ip73" transform="rotate(119)translate(87)rotate(-119)scale(1,1.282)"><circle r="21"/><text y="-2">192.168.1.73</text><text y="10">Unknown</text></g>
<g id="ip170" transform="rotate(133)translate(81)rotate(-133)scale(1,1.282)"><circle r="21"/><text y="-2">192.168.1.170</text><text y="10">Unknown</text></g>
<g id="ip14" transform="rotate(154)translate(86)rotate(-154)scale(1,1.282)"><circle r="21"/><text y="-2">192.168.1.14</text><text y="10">Unknown</text></g>
<g id="ip111" transform="rotate(170)translate(82)rotate(-170)scale(1,1.282)"><circle r="21"/><text y="-2">192.168.1.111</text><text y="10">Unknown</text></g>
<g id="ip208" transform="rotate(189)translate(84)rotate(-189)scale(1,1.282)"><circle r="21"/><text y="-2">192.168.1.208</text><text y="10">Unknown</text></g>
<g id="ip52" transform="rotate(209)translate(87)rotate(-209)scale(1,1.282)"><circle r="21"/><text y="-2">192.168.1.52</text><text y="10">Unknown</text></g>
<g id="ip246" transform="rotate(223)translate(81)rotate(-223)scale(1,1.282)"><circle r="21"/><text y="-2">192.168.1.246</text><text y="10">Unknown</text></g>
<g id="ip90" transform="rotate(244)translate(86)rotate(-244)scale(1,1.282)"><circle r="21"/><text y="-2">192.168.1.90</text><text y="10">Unknown</text></g>
<g id="ip187" transform="rotate(260)translate(82)rotate(-260)scale(1,1.282)"><circle r="21"/><text y="-2">192.168.1.187</text><text y="10">Unknown</text></g>
<g id="ip128" transform="rotate(279)translate(84)rotate(-279)scale(1,1.282)"><circle r="21"/><text y="-2">192.168.1.128</text><text y="10">Unknown</text></g>
<g id="ip225" transform="rotate(299)translate(87)rotate(-299)scale(1,1.282)"><circle r="21"/><text y="-2">192.168.1.225</text><text y="10">Unknown</text></g>
<g id="ip69" transform="rotate(313)translate(81)rotate(-313)scale(1,1.282)"><circle r="21"/><text y="-2">192.168.1.69</text><text y="10">Unknown</text></g>
<g id="ip10" transform="rotate(334)translate(86)rotate(-334)scale(1,1.282)"><circle r="21"/><text y="-2">192.168.1.10</text><text y="10">Unknown</text></g>
<g id="ip204" transform="rotate(350)translate(82)rotate(-350)scale(1,1.282)"><circle r="21"/><text y="-2">192.168.1.204</text><text y="10">Unknown</text></g>
</g>
<g id="ip87" transform="translate(294,157)"><circle r="21"/><text y="-2">192.168.1.87</text><text y="10">Unknown</text></g>
<g id="ip164" transform="translate(340,170)"><circle r="21"/><text y="-2">192.168.1.164</text><text y="10">Unknown</text></g>
<g id="ip57" transform="translate(341,221)"><circle r="21"/><text y="-2">192.168.1.57</text><text y="10">Unknown</text></g>
<g id="ip114" transform="translate(293,241)"><circle r="21"/><text y="-2">192.168.1.114</text><text y="10">Unknown</text></g>
<g id="ip188" transform="translate(240,233)"><circle r="21"/><text y="-2">192.168.1.188</text><text y="10">Unknown</text></g>
<g id="ip166" transform="translate(254,181)"><circle r="21"/><text y="-2">192.168.1.166</text><text y="10">Unknown</text></g>
</g>
</svg>
